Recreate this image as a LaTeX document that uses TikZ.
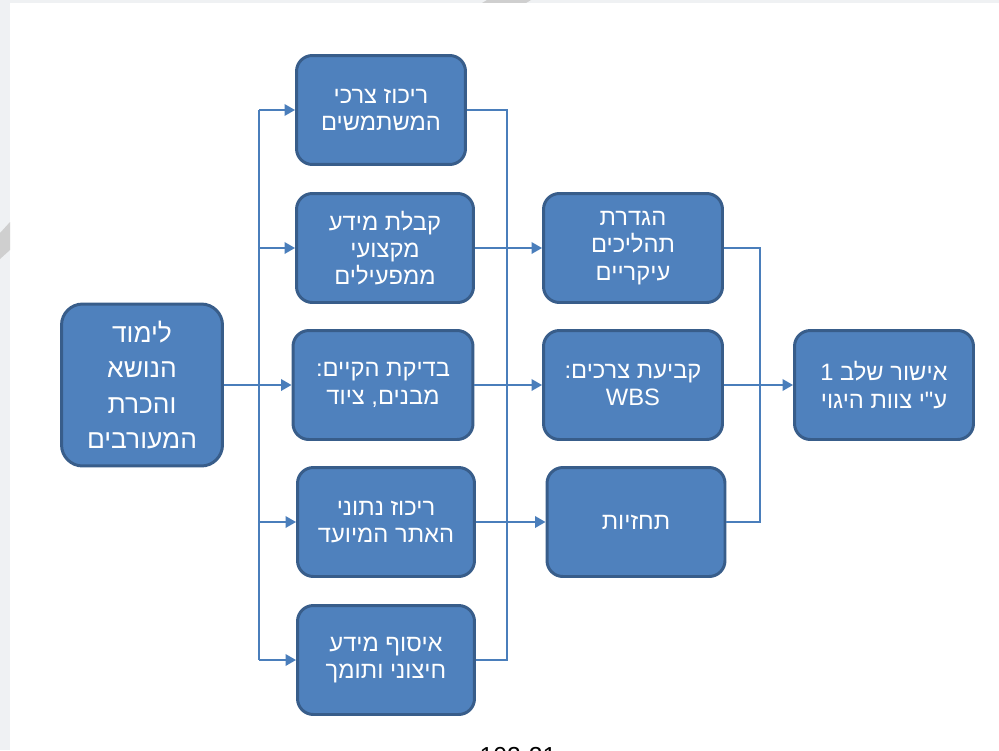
\documentclass[tikz,border=0pt]{standalone}
\usepackage{fontspec}
\newfontfamily\hebfont[Script=Hebrew]{Liberation Sans}
\setmainfont{Liberation Sans}
\usetikzlibrary{arrows.meta}
\TeXXeTstate=1
\newcommand{\rl}[1]{\beginR #1\endR}
\definecolor{boxfill}{HTML}{4F81BD}
\definecolor{boxline}{HTML}{385D8A}
\definecolor{wire}{HTML}{4A7EBB}
\definecolor{pagegray}{HTML}{EFF1F3}
\definecolor{slash}{HTML}{CFCFCF}

\begin{document}
\begin{tikzpicture}[x=0.02cm,y=-0.02cm,
  stage/.style={draw=boxline,fill=boxfill,line width=1.7pt,rounded corners=9pt,
    text=white,align=center,inner sep=2pt,minimum width=3.54cm,minimum height=2.18cm,
    font=\hebfont\fontsize{13.5}{15.5}\selectfont},
  wireline/.style={wire,line width=1.1pt},
  arr/.style={wireline,-{Triangle[length=0.21cm,width=0.23cm]}}]
  \useasboundingbox (0,0) rectangle (999,750);
  \fill[pagegray] (0,0) rectangle (999,750);
  \fill[white] (10,3) rectangle (999,750);
  \fill[slash] (487,0) -- (531,0) -- (526,3) -- (482,3) -- cycle;
  \fill[slash] (0,233) -- (10,222) -- (10,250) -- (0,259) -- cycle;
  % first step
  \node[stage,minimum width=3.22cm,minimum height=3.24cm,rounded corners=12pt,
    font=\hebfont\fontsize{15}{20}\selectfont] (learn) at (142,385)
    {\rl{לימוד}\\\rl{הנושא}\\\rl{והכרת}\\\rl{המעורבים}};
  % second column
  \node[stage,minimum width=3.38cm] (users) at (381,110) {\rl{ריכוז צרכי}\\\rl{המשתמשים}};
  \node[stage] (experts) at (385,248) {\rl{קבלת מידע}\\\rl{מקצועי}\\\rl{ממפעילים}};
  \node[stage,minimum width=3.6cm] (existing) at (383,385) {\rl{בדיקת הקיים:}\\\rl{מבנים, ציוד}};
  \node[stage] (site) at (386,522) {\rl{ריכוז נתוני}\\\rl{האתר המיועד}};
  \node[stage] (outside) at (386,660) {\rl{איסוף מידע}\\\rl{חיצוני ותומך}};
  % third column
  \node[stage,minimum width=3.58cm] (process) at (633,248) {\rl{הגדרת}\\\rl{תהליכים}\\\rl{עיקריים}};
  \node[stage,minimum width=3.58cm] (needs) at (633,385) {\rl{קביעת צרכים:}\\WBS};
  \node[stage,minimum width=3.56cm] (forecast) at (636,522) {\rl{תחזיות}};
  \node[stage,minimum width=3.58cm] (approve) at (884,385) {\rl{אישור שלב 1}\\\rl{ע"י צוות היגוי}};
  \node[anchor=base,font=\fontsize{14}{16}\selectfont] (pagenum) at (518,764) {102-21};
  % buses
  \coordinate (lx) at (259,0);
  \coordinate (mx) at (507,0);
  \coordinate (rx) at (760,0);
  \draw[arr] (learn.east) -- (existing.west);
  \draw[wireline] (lx |- users.west) -- (lx |- outside.west);
  \foreach \n in {users,experts,site,outside}
    \draw[arr] (lx |- \n.west) -- (\n.west);
  \draw[wireline] (users.east) -| (mx |- outside.east) -- (outside.east);
  \draw[arr] (experts.east) -- (process.west);
  \draw[arr] (existing.east) -- (needs.west);
  \draw[arr] (site.east) -- (forecast.west);
  \draw[wireline] (process.east) -| (rx |- forecast.east) -- (forecast.east);
  \draw[arr] (needs.east) -- (approve.west);
\end{tikzpicture}
\end{document}
